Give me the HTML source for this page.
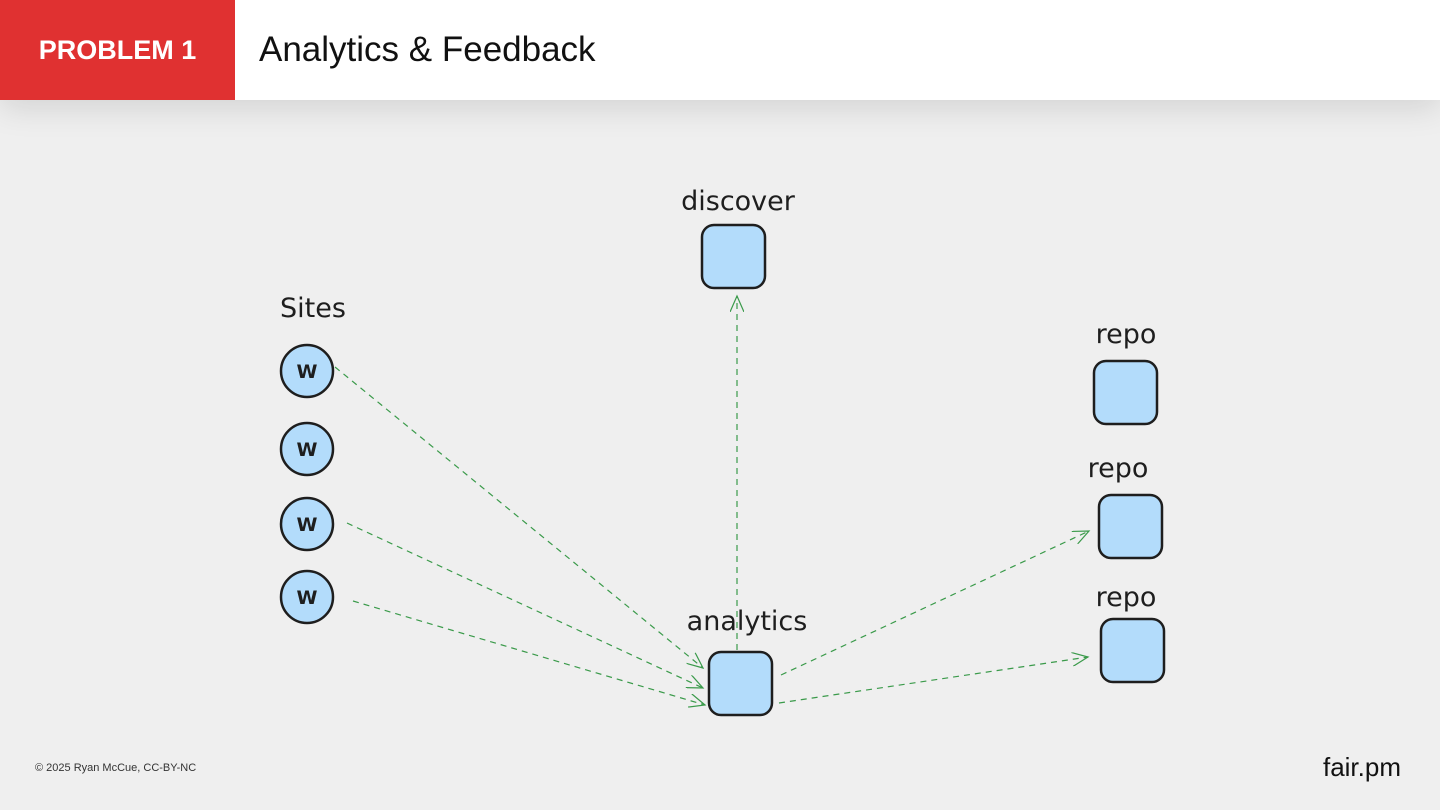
<!DOCTYPE html>
<html><head><meta charset="utf-8"><style>
html,body{margin:0;padding:0;width:1440px;height:810px;overflow:hidden;background:#efefef;font-family:"Liberation Sans",sans-serif}
.hdr{position:absolute;left:0;top:0;width:1440px;height:100px;background:#fff;box-shadow:0 8px 30px rgba(0,0,0,.12)}
.red{position:absolute;left:0;top:0;width:235px;height:100px;background:#e03131;color:#fff;font-weight:bold;font-size:27px;line-height:100px;text-align:center}
.title{position:absolute;left:259px;top:0;line-height:100px;font-size:35px;color:#111}
.foot{position:absolute;left:35px;top:762px;font-size:11px;color:#333}
.fair{position:absolute;right:39px;top:752px;font-size:26px;color:#111}
svg{position:absolute;left:0;top:0}
.lbl{font-family:"Comic Sans MS","DejaVu Sans",sans-serif;font-size:27px;fill:#1e1e1e}
</style></head><body>
<div class="hdr"></div>
<div class="red">PROBLEM 1</div>
<div class="title">Analytics &amp; Feedback</div>
<svg width="1440" height="810">
<defs><marker id="a" markerWidth="18" markerHeight="14" refX="16" refY="7" orient="auto" markerUnits="userSpaceOnUse"><path d="M0,0 L16,7 L0,14" fill="none" stroke="#3a9a4a" stroke-width="1.2"/></marker></defs>
<g stroke="#3a9a4a" stroke-width="1.2" stroke-dasharray="6,5" fill="none" marker-end="url(#a)">
<line x1="335" y1="367" x2="703" y2="668"/>
<line x1="347" y1="523" x2="703" y2="688"/>
<line x1="353" y1="601" x2="705" y2="705"/>
<line x1="737" y1="650" x2="737" y2="296"/>
<line x1="781" y1="675" x2="1089" y2="531"/>
<line x1="779" y1="703" x2="1088" y2="657"/>
</g>
<g fill="#b3dcfb" stroke="#1e1e1e" stroke-width="2.5">
<circle cx="307" cy="371" r="26"/><circle cx="307" cy="449" r="26"/><circle cx="307" cy="524" r="26"/><circle cx="307" cy="597" r="26"/>
<rect x="702" y="225" width="63" height="63" rx="12"/>
<rect x="709" y="652" width="63" height="63" rx="12"/>
<rect x="1094" y="361" width="63" height="63" rx="12"/>
<rect x="1099" y="495" width="63" height="63" rx="12"/>
<rect x="1101" y="619" width="63" height="63" rx="12"/>
</g>
<g font-family="DejaVu Sans,sans-serif" font-weight="bold" font-size="19" fill="#1e1e1e" text-anchor="middle">
<text x="307" y="378">W</text><text x="307" y="456">W</text><text x="307" y="531">W</text><text x="307" y="604">W</text>
</g>
<g class="lbl" text-anchor="middle">
<text x="738" y="210">discover</text>
<text x="313" y="317">Sites</text>
<text x="1126" y="343">repo</text>
<text x="1118" y="477">repo</text>
<text x="1126" y="606">repo</text>
<text x="747" y="630">analytics</text>
</g>
</svg>
<div class="foot">© 2025 Ryan McCue, CC-BY-NC</div>
<div class="fair">fair.pm</div>
</body></html>
